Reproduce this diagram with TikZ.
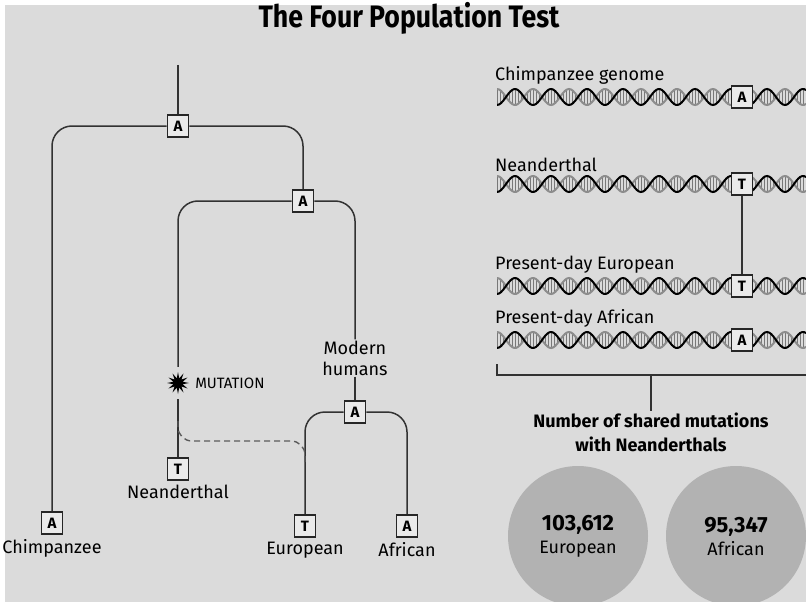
\documentclass[tikz,border=0pt]{standalone}
\usepackage{fontspec}
\setmainfont{Fira Sans}
\usetikzlibrary{positioning,shapes.geometric}

\definecolor{bgc}{RGB}{219,219,219}
\definecolor{linec}{RGB}{50,50,50}
\definecolor{boxf}{RGB}{234,234,234}
\definecolor{circf}{RGB}{178,178,178}
\definecolor{rungc}{RGB}{120,120,120}

\begin{document}
\begin{tikzpicture}[x=1pt,y=-1pt,
	bx/.style={rectangle, draw=black!85, line width=1.6pt, fill=boxf, minimum width=21pt, minimum height=22pt, inner sep=0pt, font=\bfseries\fontsize{15}{15}\selectfont},
	lbl/.style={font=\fontsize{18}{21}\selectfont, inner sep=1pt},
	br/.style={draw=linec, line width=1.5pt, rounded corners=20pt},
	dsh/.style={draw=linec!80, line width=1.4pt, dashed, dash pattern=on 6pt off 4pt, rounded corners=14pt}
	]
	
	\clip (0,0) rectangle (806,602);
	\fill[white] (0,0) rectangle (806,602);
	\fill[bgc] (5,5) rectangle (806,602);
	
	\node[font=\bfseries\fontsize{31}{31}\selectfont] (title) at (409,18) {\scalebox{0.86}[1]{The Four Population Test}};
	
	% tree
	\coordinate (top) at (178,65);
	\node[bx] (r) at (178,126) {A};
	\node[bx] (h) at (303,201) {A};
	\node[bx] (c) at (52,523) {A};
	\node[lbl] (cl) [below=3pt of c] {Chimpanzee};
	
	\node[circle, inner sep=0pt, minimum size=32pt] (s) at (178,383) {};
	\node[star, star points=12, star point ratio=2.3, fill=black, inner sep=0pt, minimum size=22pt] (sx) at (s) {};
	\node[font=\fontsize{15}{15}\selectfont, inner sep=0pt] (ml) [right=5pt of sx] {MUTATION};
	\node[bx] (n) at (178,469) {T};
	\node[lbl] (nl) [below=3pt of n] {Neanderthal};
	
	\node[lbl, align=center] (mh) at (355,358) {Modern\\humans};
	\node[bx] (m) at (355,412) {A};
	\node[bx] (e) at (305,526) {T};
	\node[bx] (f) at (407,526) {A};
	\node[lbl] (el) [below=3pt of e] {European};
	\node[lbl] (fl) [below=3pt of f] {African};
	
	\draw[br] (top) -- (r);
	\draw[br] (r) -| (c);
	\draw[br] (r) -| (h);
	\draw[br] (h) -| (s);
	\draw[br] (s) -- (n);
	\draw[br] (h) -| (mh);
	\draw[br] (mh) -- (m);
	\draw[br] (m) -| (e);
	\draw[br] (m) -| (f);
	
	\coordinate (d1) at (178,421);
	\coordinate (dm) at (305,441);
	\coordinate (d2) at (305,463);
	\draw[dsh] (d1) |- (dm) -- (d2);
	
	% genomes
	\foreach \y/\t/\lab [count=\i] in {97/A/Chimpanzee genome, 184/T/Neanderthal, 286/T/Present-day European, 340/A/Present-day African}{
		\begin{scope}
			\clip (497,\y-11) rectangle (806,\y+11);
			\foreach \x in {497,500,...,806}
				\draw[rungc, line width=0.9pt] (\x,{\y+8*cos(10*(\x-497))}) -- (\x,{\y-8*cos(10*(\x-497))});
			\draw[black!45, line width=2pt] plot[domain=497:806, samples=160] (\x,{\y-8*cos(10*(\x-497))});
			\draw[black, line width=2pt] plot[domain=497:806, samples=160] (\x,{\y+8*cos(10*(\x-497))});
		\end{scope}
		\node[bx] (g\i) at (742,\y) {\t};
		\node[lbl, anchor=south west] (gl\i) at (494,\y-11) {\lab};
	}
	\draw[br] (g2) -- (g3);
	
	% summary
	\coordinate (bl) at (497,364);
	\coordinate (bm) at (651,375);
	\coordinate (bz) at (806,375);
	\draw[br, rounded corners=0pt] (bl) |- (bz);
	\node[lbl, font=\bfseries\fontsize{18}{24}\selectfont, align=center] (nm) at (651,432) {Number of shared mutations\\with Neanderthals};
	\draw[br] (bm) -- (nm);
	
	\node[circle, fill=circf, minimum size=140pt, inner sep=0pt, align=center, font=\fontsize{18}{23}\selectfont] (ce) at (578,536) {{\bfseries\fontsize{22}{23}\selectfont 103,612}\\European};
	\node[circle, fill=circf, minimum size=140pt, inner sep=0pt, align=center, font=\fontsize{18}{23}\selectfont] (ca) at (736,536) {{\bfseries\fontsize{22}{23}\selectfont 95,347}\\African};
	
\end{tikzpicture}
\end{document}
